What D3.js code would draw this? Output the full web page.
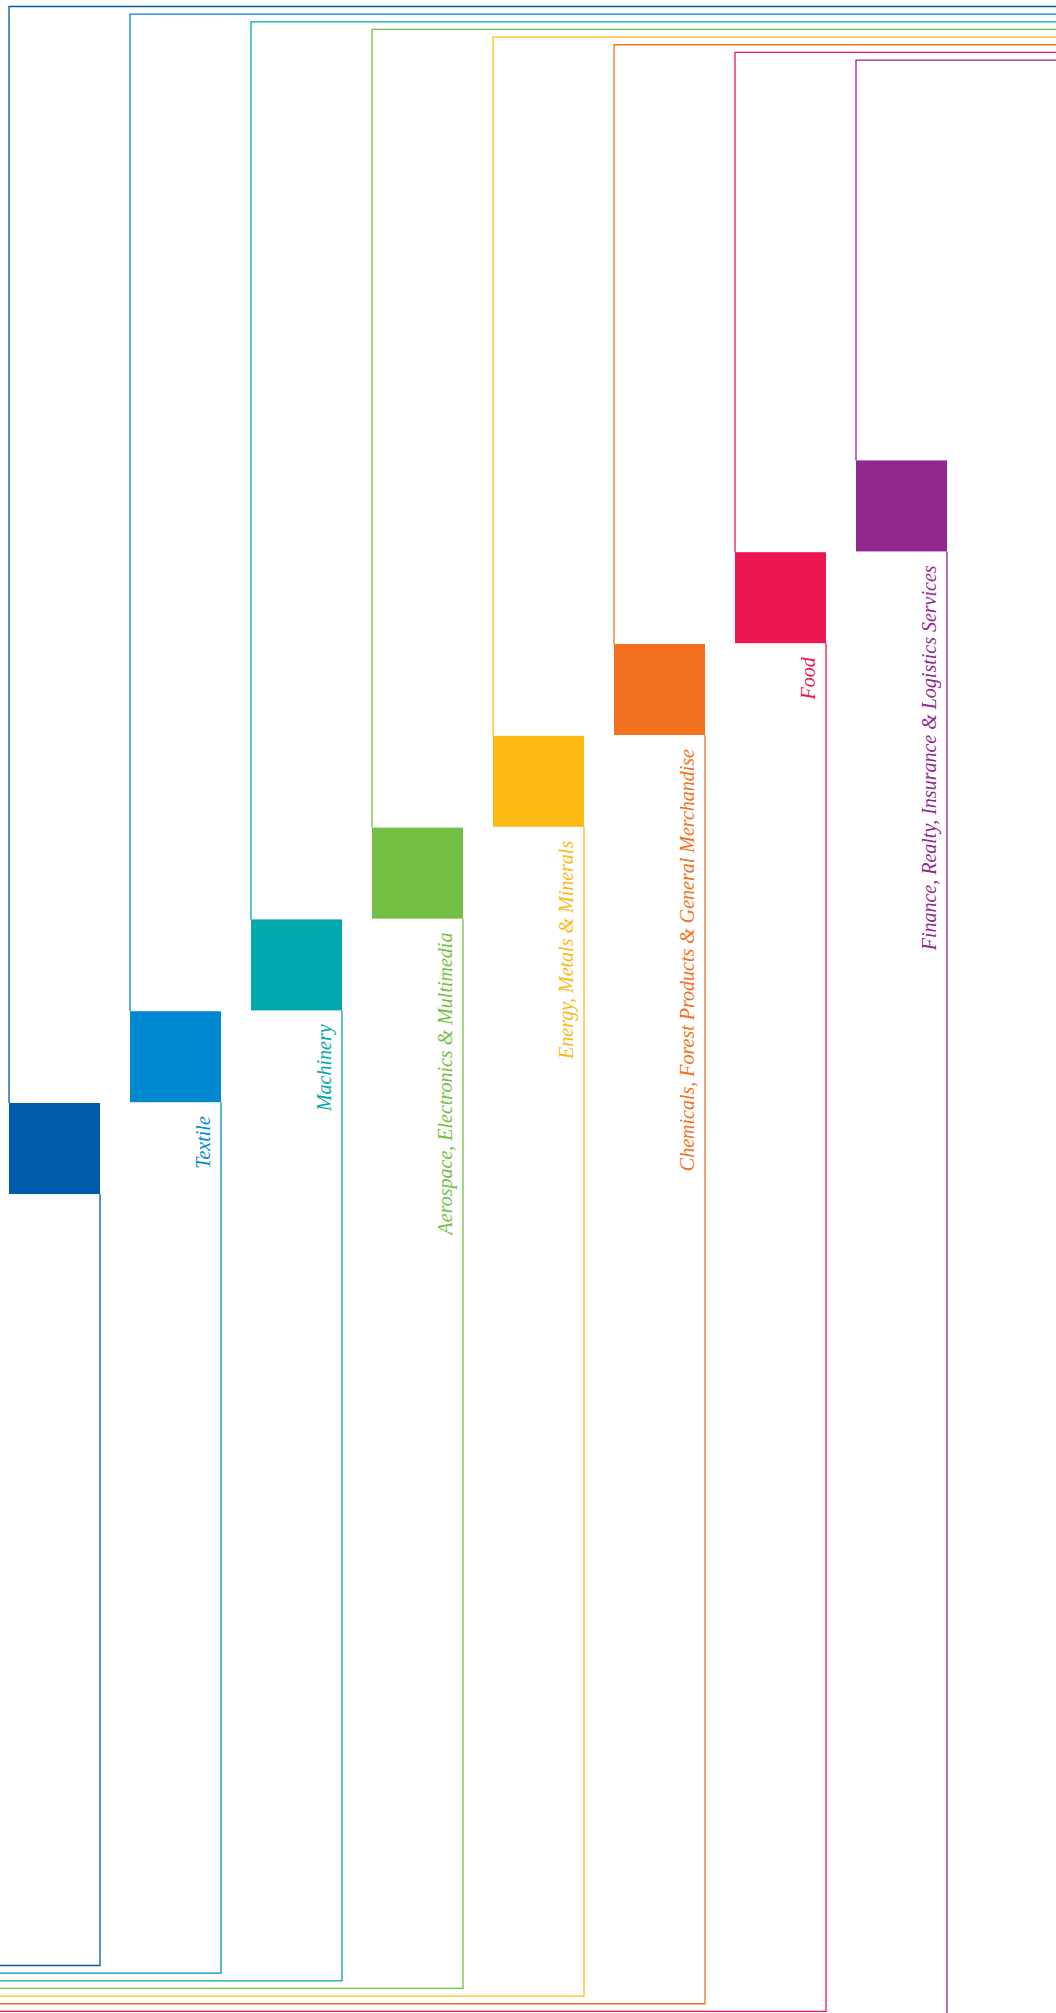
<!DOCTYPE html>
<html>
<head>
<meta charset="utf-8">
<script src="https://cdn.jsdelivr.net/npm/d3@7"></script>
<style>
  html, body { margin: 0; padding: 0; background: #fff; }
  svg { display: block; }
</style>
</head>
<body>
<div id="chart"></div>
<script>
// Sectors, in order from the outer bracket to the inner one
const sectors = ["Other", "Textile", "Machinery", "Aerospace", "Energy", "Chemicals", "Food", "Finance"];

// Label shown under each square (first one has none)
const labels = [
  "",
  "Textile",
  "Machinery",
  "Aerospace, Electronics & Multimedia",
  "Energy, Metals & Minerals",
  "Chemicals, Forest Products & General Merchandise",
  "Food",
  "Finance, Realty, Insurance & Logistics Services"
];

const sectorColors = ["#005baa", "#0089d0", "#00a9ac", "#72bf44", "#fdb913", "#f37021", "#ed1651", "#92278f"];

document.addEventListener("DOMContentLoaded", () => {
  const svgWidth = 1056;
  const svgHeight = 2013;
  const boxSize = 91;

  const svg = d3.select("#chart")
                .append("svg")
                .attr("width", svgWidth)
                .attr("height", svgHeight);

  // Scales: squares step right and up, bracket lines nest inside each other
  const x = d3.scalePoint().domain(sectors).range([9, 9 + 121 * 7]);
  const boxY = d3.scalePoint().domain(sectors).range([1103, 1103 - 91.8 * 7]);
  const topY = d3.scalePoint().domain(sectors).range([6.5, 6.5 + 7.65 * 7]);
  const bottomY = d3.scalePoint().domain(sectors).range([1965.5, 1965.5 + 7.65 * 7]);
  const color = d3.scaleOrdinal().domain(sectors).range(sectorColors);

  const data = sectors.map((s, i) => ({ sector: s, label: labels[i] }));

  // Upper bracket: from the right edge, across, then down to the square
  svg.selectAll(".top-line")
     .data(data)
     .join("path")
     .attr("class", "top-line")
     .attr("fill", "none")
     .attr("stroke", d => color(d.sector))
     .attr("stroke-width", 1.3)
     .attr("d", d => `M${svgWidth},${topY(d.sector)}H${x(d.sector)}V${boxY(d.sector)}`);

  // Lower bracket: from the square, down, then across to the left edge
  svg.selectAll(".bottom-line")
     .data(data)
     .join("path")
     .attr("class", "bottom-line")
     .attr("fill", "none")
     .attr("stroke", d => color(d.sector))
     .attr("stroke-width", 1.3)
     .attr("d", d => `M${x(d.sector) + boxSize},${boxY(d.sector) + boxSize}V${bottomY(d.sector)}H0`);

  // Squares
  svg.selectAll(".box")
     .data(data)
     .join("rect")
     .attr("class", "box")
     .attr("x", d => x(d.sector))
     .attr("y", d => boxY(d.sector))
     .attr("width", boxSize)
     .attr("height", boxSize)
     .attr("fill", d => color(d.sector));

  // Rotated labels under each square
  svg.selectAll(".label")
     .data(data.filter(d => d.label))
     .join("text")
     .attr("class", "label")
     .attr("transform", d => `translate(${x(d.sector) + boxSize - 11},${boxY(d.sector) + boxSize + 14}) rotate(-90)`)
     .attr("text-anchor", "end")
     .attr("font-family", "'Liberation Serif', 'DejaVu Serif', serif")
     .attr("font-style", "italic")
     .attr("font-size", 20)
     .attr("fill", d => color(d.sector))
     .text(d => d.label);
});
</script>
</body>
</html>
